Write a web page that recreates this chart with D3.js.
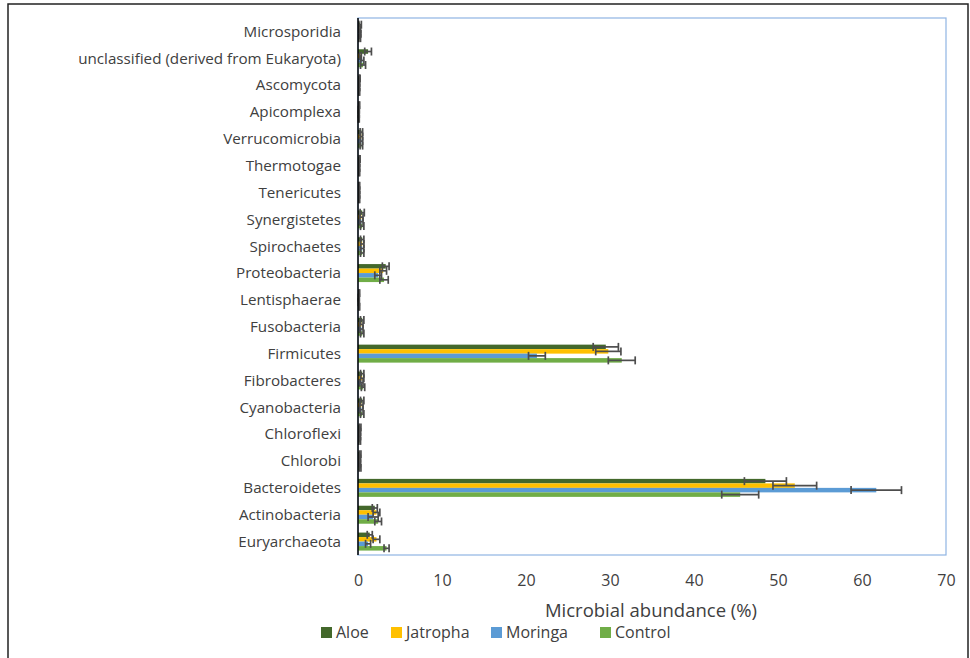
<!DOCTYPE html>
<html><head><meta charset="utf-8">
<script src="https://cdn.jsdelivr.net/npm/d3@7"></script>
<style>body{margin:0;background:#fff}svg{display:block}</style>
</head><body><svg id="c" width="970" height="658"></svg>
<script>
// categories, top to bottom
const categories = ["Microsporidia","unclassified (derived from Eukaryota)","Ascomycota","Apicomplexa","Verrucomicrobia","Thermotogae","Tenericutes","Synergistetes","Spirochaetes","Proteobacteria","Lentisphaerae","Fusobacteria","Firmicutes","Fibrobacteres","Cyanobacteria","Chloroflexi","Chlorobi","Bacteroidetes","Actinobacteria","Euryarchaeota"];
const seriesNames = ["Aloe","Jatropha","Moringa","Control"];
const seriesColors = ["#43682b","#ffc000","#5b9bd5","#70ad47"];
const aloe     = [0.25,1.2,0.2,0.15,0.4,0.2,0.15,0.5,0.5,3.3,0.15,0.5,29.5,0.5,0.5,0.25,0.25,48.5,2.0,1.4];
const jatropha = [0.2,0.3,0.15,0.1,0.4,0.15,0.15,0.4,0.5,3.0,0.1,0.4,29.8,0.5,0.4,0.2,0.2,52.0,2.2,2.2];
const moringa  = [0.25,0.5,0.15,0.1,0.4,0.15,0.15,0.4,0.5,2.4,0.1,0.4,21.3,0.4,0.4,0.2,0.2,61.7,1.8,1.2];
const control  = [0.2,0.6,0.15,0.1,0.4,0.15,0.15,0.5,0.5,3.1,0.15,0.5,31.4,0.6,0.5,0.2,0.25,45.5,2.4,3.4];
const aloeErr     = [0.15,0.4,0.05,0.05,0.15,0.05,0.05,0.25,0.2,0.4,0.05,0.2,1.5,0.2,0.2,0.1,0.1,2.5,0.3,0.3];
const jatrophaErr = [0.1,0.1,0.05,0.05,0.15,0.05,0.05,0.2,0.2,0.4,0.05,0.2,1.5,0.2,0.2,0.1,0.1,2.6,0.4,0.4];
const moringaErr  = [0.1,0.2,0.05,0.05,0.15,0.05,0.05,0.2,0.2,0.4,0.05,0.2,1.0,0.2,0.2,0.1,0.1,3.0,0.6,0.3];
const controlErr  = [0.1,0.3,0.05,0.05,0.15,0.05,0.05,0.2,0.2,0.5,0.05,0.2,1.6,0.2,0.2,0.1,0.1,2.2,0.4,0.3];
const xTicks = [0,10,20,30,40,50,60,70];
const xTitle = "Microbial abundance (%)";

const values = [aloe,jatropha,moringa,control];
const errs = [aloeErr,jatrophaErr,moringaErr,controlErr];

const svg = d3.select("#c");
const font = "'Open Sans', 'Liberation Sans', sans-serif";
const pL = 358, pR = 946, pT = 18, pB = 555;

// outer frame
svg.append("rect").attr("x",8).attr("y",4).attr("width",960).attr("height",670)
  .attr("fill","none").attr("stroke","#222").attr("stroke-width",1.5);

const x = d3.scaleLinear().domain([0,70]).range([pL,pR]);
const y = d3.scaleBand().domain(categories).range([pT,pB]).paddingInner(0.33).paddingOuter(0.165);
const ySub = d3.scaleBand().domain(seriesNames).range([0,y.bandwidth()]);

// plot area border
svg.append("rect").attr("x",pL).attr("y",pT).attr("width",pR-pL).attr("height",pB-pT)
  .attr("fill","none").attr("stroke","#8fb4e3").attr("stroke-width",1.2);

const data = [];
categories.forEach((c,i)=>seriesNames.forEach((s,j)=>data.push({c,s,j,v:values[j][i],e:errs[j][i]})));

const g = svg.append("g");
g.selectAll("rect.bar").data(data).join("rect").attr("class","bar")
  .attr("x",x(0)).attr("y",d=>y(d.c)+ySub(d.s))
  .attr("width",d=>x(d.v)-x(0)).attr("height",ySub.bandwidth())
  .attr("fill",d=>seriesColors[d.j]);

// error bars
const eg = g.selectAll("g.err").data(data).join("g").attr("class","err")
  .attr("stroke","#4d4d4d").attr("stroke-width",1.7);
const cy = d=>y(d.c)+ySub(d.s)+ySub.bandwidth()/2;
eg.append("line").attr("x1",d=>x(Math.max(0,d.v-d.e))).attr("x2",d=>x(d.v+d.e))
  .attr("y1",cy).attr("y2",cy);
eg.append("line").attr("x1",d=>x(d.v+d.e)).attr("x2",d=>x(d.v+d.e))
  .attr("y1",d=>cy(d)-4).attr("y2",d=>cy(d)+4);
eg.append("line").attr("x1",d=>x(Math.max(0,d.v-d.e))).attr("x2",d=>x(Math.max(0,d.v-d.e)))
  .attr("y1",d=>cy(d)-4).attr("y2",d=>cy(d)+4);

// y axis line
svg.append("line").attr("x1",pL).attr("x2",pL).attr("y1",pT).attr("y2",pB)
  .attr("stroke","#000").attr("stroke-width",1.5);

// category labels
svg.append("g").selectAll("text").data(categories).join("text")
  .attr("x",341).attr("y",d=>y(d)+y.bandwidth()/2).attr("dy","0.35em")
  .attr("text-anchor","end").attr("font-family",font).attr("font-size",15.2).attr("fill","#404040")
  .text(d=>d);

// x axis tick labels
const xa = d3.axisBottom(x).tickValues(xTicks).tickSize(0).tickPadding(0);
const xg = svg.append("g").attr("transform",`translate(0,${580})`).call(xa);
xg.select(".domain").remove();
xg.selectAll("text").attr("font-family",font).attr("font-size",16).attr("fill","#404040").attr("dy","0.35em").attr("y",0);

svg.append("text").attr("x",651).attr("y",611).attr("dy","0.35em").attr("text-anchor","middle")
  .attr("font-family",font).attr("font-size",18.5).attr("fill","#404040").text(xTitle);

// legend
const lx = [321,391,491,600];
const lg = svg.append("g").selectAll("g").data(seriesNames).join("g")
  .attr("transform",(d,i)=>`translate(${lx[i]},632)`);
lg.append("rect").attr("x",0).attr("y",-5).attr("width",11).attr("height",11).attr("fill",(d,i)=>seriesColors[i]);
lg.append("text").attr("x",15).attr("dy","0.38em").attr("font-family",font).attr("font-size",16).attr("fill","#404040").text(d=>d);
</script></body></html>
